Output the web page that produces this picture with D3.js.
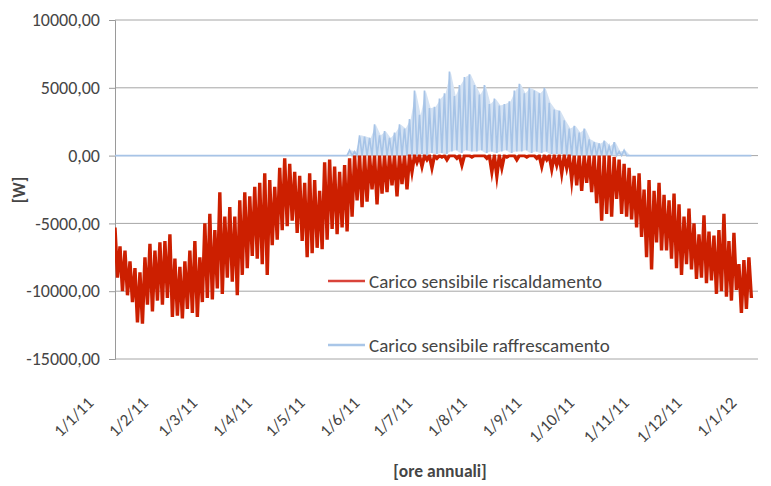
<!DOCTYPE html>
<html>
<head>
<meta charset="utf-8">
<script src="https://cdn.jsdelivr.net/npm/d3@7"></script>
<style>
  body { margin: 0; background: #fff; }
  svg { font-family: Carlito, Lato, "Open Sans", sans-serif; }
</style>
</head>
<body>
<div id="chart"></div>
<script>
const stepHours = 68;
const startDate = new Date(2011, 0, 1);
const endDate = new Date(2012, 0, 1);

const redHigh = [
  -5300, -6700, -7000, -7800, -8300, -8600, -7500, -6500, -7000, -6400,
  -6300, -5800, -7600, -8200, -7800, -7000, -6300, -7500, -5000, -4300,
  -5500, -2700, -4500, -3800, -4500, -3300, -2700, -3000, -2300, -2000,
  -1300, -1800, -2300, -900, -200, -600, -1200, -1500, -2000, -1300,
  -1800, -2600, -500, -300, -800, -1200, -700, -200, 0, 0,
  0, 0, 0, 0, 0, 0, 0, 0, 0, 0,
  0, 0, 0, 0, 0, 0, 0, 0, 0, 0,
  0, 0, 0, 0, 0, 0, 0, 0, 0, 0,
  0, 0, 0, 0, 0, 0, 0, 0, 0, 0,
  0, 0, 0, 0, 0, 0, 0, 0, 0, 0,
  -100, -300, -600, -900, -1500, -1300, -2500, -1800, -2600, -2000,
  -2900, -3300, -2800, -3600, -4500, -3900, -5000, -5800, -4400, -5600,
  -5900, -5500, -4300, -6300, -5700, -8000, -7700, -7500
];
const redLow = [
  -9000, -10000, -10300, -10800, -12300, -12400, -11000, -11500, -10700, -11000,
  -10500, -11900, -11800, -12000, -11300, -11600, -11900, -10800, -10500, -10600,
  -9800, -10200, -9000, -9300, -10300, -8800, -8300, -7400, -7600, -8000,
  -8800, -6600, -6200, -5500, -5200, -4800, -5700, -6300, -7500, -7200,
  -6800, -6900, -6200, -5400, -5800, -5300, -5600, -4500, -3300, -3800,
  -3400, -2500, -3600, -2800, -2700, -2200, -3000, -2100, -2500, -1200,
  -500, -800, -300, -900, -200, -100, -300, 0, -200, -700,
  0, -100, 0, 0, -200, -1200, -1500, -900, -100, 0,
  -300, 0, -100, 0, -200, -800, -300, -1000, -700, -1300,
  -900, -1800, -2200, -2600, -2000, -2700, -3500, -4800, -4300, -4500,
  -3200, -4300, -4500, -4700, -5300, -6000, -7500, -8400, -6400, -7000,
  -7000, -7600, -8300, -8800, -8000, -8400, -9100, -9000, -9400, -9200,
  -10200, -10000, -10400, -10700, -9900, -11600, -11300, -10500
];
const blueHigh = [
  0, 0, 0, 0, 0, 0, 0, 0, 0, 0,
  0, 0, 0, 0, 0, 0, 0, 0, 0, 0,
  0, 0, 0, 0, 0, 0, 0, 0, 0, 0,
  0, 0, 0, 0, 0, 0, 0, 0, 0, 0,
  0, 0, 0, 0, 0, 0, 0, 400, 300, 1500,
  1400, 1300, 2300, 1500, 1800, 1300, 1700, 2300, 2000, 2700,
  4800, 3000, 4800, 3500, 3600, 4200, 4600, 6200, 4400, 5200,
  5800, 6000, 5200, 4500, 5200, 3800, 4200, 3700, 3800, 4000,
  4800, 5300, 4600, 5000, 4800, 4600, 5000, 3900, 3400, 3300,
  2600, 2000, 2200, 1700, 2000, 1200, 1000, 900, 1100, 700,
  1000, 300, 400, 0, 0, 0, 0, 0, 0, 0,
  0, 0, 0, 0, 0, 0, 0, 0, 0, 0,
  0, 0, 0, 0, 0, 0, 0, 0
];
const blueLow = [
  0, 0, 0, 0, 0, 0, 0, 0, 0, 0,
  0, 0, 0, 0, 0, 0, 0, 0, 0, 0,
  0, 0, 0, 0, 0, 0, 0, 0, 0, 0,
  0, 0, 0, 0, 0, 0, 0, 0, 0, 0,
  0, 0, 0, 0, 0, 0, 0, 0, 0, 0,
  0, 0, 0, 0, 0, 0, 0, 0, 0, 0,
  0, 100, 0, 200, 100, 200, 100, 300, 400, 200,
  400, 300, 300, 400, 200, 300, 200, 300, 400, 200,
  300, 300, 400, 200, 300, 200, 300, 100, 100, 100,
  0, 0, 0, 0, 0, 0, 0, 0, 0, 0,
  0, 0, 0, 0, 0, 0, 0, 0, 0, 0,
  0, 0, 0, 0, 0, 0, 0, 0, 0, 0,
  0, 0, 0, 0, 0, 0, 0, 0
];

const yTicks = [10000, 5000, 0, -5000, -10000, -15000];
const seriesNames = ['Carico sensibile riscaldamento', 'Carico sensibile raffrescamento'];
const redColor = '#cc1f00';
const blueColor = '#a7c4e7';
const textColor = '#454545';

const width = 771, height = 486;
const margin = { top: 20, right: 13, bottom: 127, left: 115 };
const innerW = width - margin.left - margin.right;
const innerH = height - margin.top - margin.bottom;

const svg = d3.select('#chart').append('svg')
  .attr('width', width)
  .attr('height', height);

const g = svg.append('g')
  .attr('transform', `translate(${margin.left},${margin.top})`);

const x = d3.scaleTime()
  .domain([startDate, endDate])
  .range([0, innerW]);
const y = d3.scaleLinear()
  .domain([-15000, 10000])
  .range([innerH, 0]);

// heating values never go above zero: keep the thick stroke under the zero line
g.append('clipPath')
  .attr('id', 'belowZero')
  .append('rect')
  .attr('x', 0)
  .attr('y', y(0) - 1)
  .attr('width', innerW)
  .attr('height', innerH - y(0) + 1);

// gridlines
g.append('g')
  .selectAll('line')
  .data(yTicks)
  .enter().append('line')
  .attr('x1', 0)
  .attr('x2', innerW)
  .attr('y1', d => y(d))
  .attr('y2', d => y(d))
  .attr('stroke', '#a6a6a6')
  .attr('stroke-width', 1);

// y axis
const yAxis = g.append('g')
  .call(d3.axisLeft(y)
    .tickValues(yTicks)
    .tickSize(6)
    .tickPadding(9)
    .tickFormat(d => d.toFixed(2).replace('.', ',')));
yAxis.select('.domain').attr('stroke', '#9a9a9a');
yAxis.selectAll('.tick line').attr('stroke', '#9a9a9a');
yAxis.selectAll('text')
  .attr('font-size', 18)
  .attr('fill', textColor)
  .attr('font-family', 'Carlito, Lato, "Open Sans", sans-serif');

// x axis (month labels)
const months = d3.timeMonth.range(startDate, d3.timeDay.offset(endDate, 1));
const xAxis = g.append('g')
  .attr('transform', `translate(0,${innerH})`)
  .call(d3.axisBottom(x)
    .tickValues(months)
    .tickSize(0)
    .tickFormat(d3.timeFormat('%-d/%-m/%y')));
xAxis.select('.domain').remove();
xAxis.selectAll('text')
  .attr('font-size', 17)
  .attr('fill', textColor)
  .attr('font-family', 'Carlito, Lato, "Open Sans", sans-serif')
  .attr('text-anchor', 'end')
  .attr('dy', 0)
  .attr('y', 0)
  .attr('transform', 'translate(-21,45) rotate(-45)');

// series: each sample gives a high point and, half a step later, a low point
function zigzag(high, low) {
  const pts = [];
  high.forEach((h, i) => {
    pts.push([d3.timeHour.offset(startDate, i * stepHours), h]);
    pts.push([d3.timeHour.offset(startDate, i * stepHours + stepHours / 2), low[i]]);
  });
  return pts;
}

const line = d3.line()
  .x(d => x(d[0]))
  .y(d => y(d[1]));

const band = d3.area()
  .x((d, i) => x(d3.timeHour.offset(startDate, i * stepHours + stepHours / 4)))
  .y0(d => y(d[1]))
  .y1(d => y(d[0]));

// cooling load: pale band under a streaky line
g.append('path')
  .datum(blueHigh.map((h, i) => [h, blueLow[i]]))
  .attr('d', band)
  .attr('fill', '#d4e2f3')
  .attr('stroke', 'none');
g.append('path')
  .datum(zigzag(blueHigh, blueLow))
  .attr('d', line)
  .attr('fill', 'none')
  .attr('stroke', blueColor)
  .attr('stroke-width', 1.6);

// heating load
g.append('path')
  .datum(zigzag(redHigh, redLow))
  .attr('d', line)
  .attr('clip-path', 'url(#belowZero)')
  .attr('fill', 'none')
  .attr('stroke', redColor)
  .attr('stroke-width', 3.4)
  .attr('stroke-linejoin', 'miter')
  .attr('stroke-miterlimit', 10);

// legend
const legend = svg.append('g');
[redColor, blueColor].forEach((c, i) => {
  const ly = 281 + i * 64;
  legend.append('line')
    .attr('x1', 328).attr('x2', 365)
    .attr('y1', ly).attr('y2', ly)
    .attr('stroke', i === 0 ? '#d9433a' : '#a9c6e8')
    .attr('stroke-width', 2.5);
  legend.append('text')
    .attr('x', 369)
    .attr('y', ly)
    .attr('dy', '0.35em')
    .attr('font-size', 19)
    .attr('fill', textColor)
    .text(seriesNames[i]);
});

// axis titles
svg.append('text')
  .attr('transform', 'translate(19,190) rotate(-90)')
  .attr('text-anchor', 'middle')
  .attr('dy', '0.35em')
  .attr('font-size', 17)
  .attr('font-weight', 'bold')
  .attr('fill', textColor)
  .text('[W]');

svg.append('text')
  .attr('x', 440)
  .attr('y', 477)
  .attr('text-anchor', 'middle')
  .attr('font-size', 17.5)
  .attr('font-weight', 'bold')
  .attr('fill', textColor)
  .text('[ore annuali]');
</script>
</body>
</html>
